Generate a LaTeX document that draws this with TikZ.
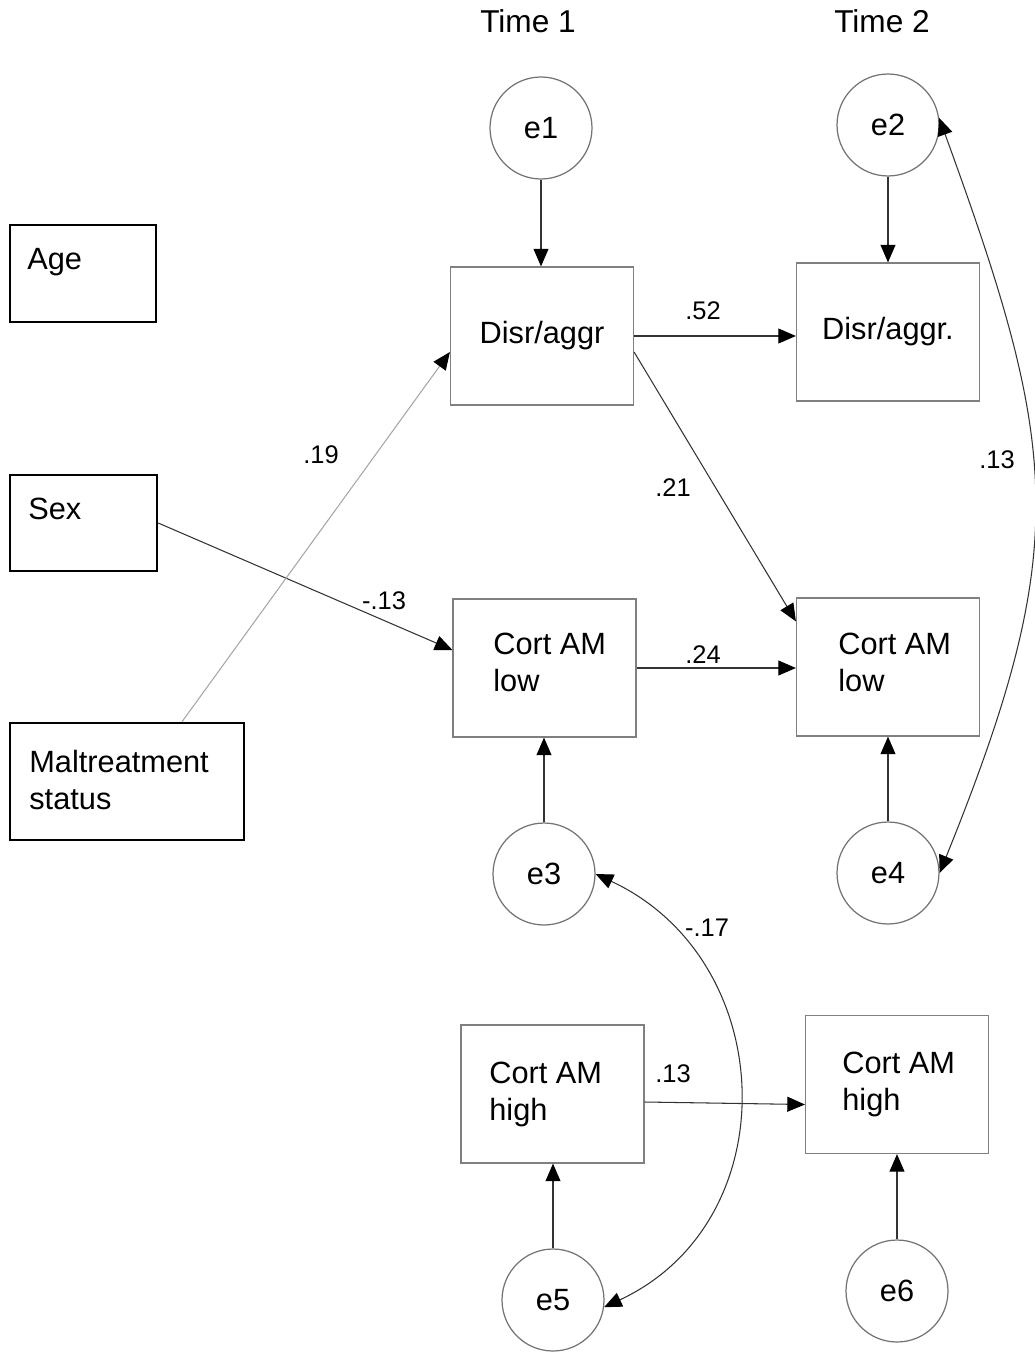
\documentclass[tikz,border=0pt]{standalone}
\usepackage{fontspec}
\setmainfont{Liberation Sans}
\usetikzlibrary{arrows.meta, calc}

\begin{document}
\begin{tikzpicture}[
    x=0.02cm, y=-0.02cm,
    every node/.style={font=\fontsize{17.5}{21}\selectfont},
    exo/.style={draw=black, line width=1.4pt, inner sep=0pt},
    obs/.style={draw=black!50, line width=0.7pt, minimum width=3.66cm, minimum height=2.76cm, inner sep=0pt},
    err/.style={circle, draw=black!55, line width=0.7pt, minimum size=2.04cm, inner sep=0pt},
    txt/.style={anchor=north west, inner sep=0pt, align=left},
    arrow/.style={-{Triangle[length=10pt, width=8.5pt, color=black]}, line width=0.6pt, draw=black!80},
    darrow/.style={{Triangle[length=10pt, width=8.5pt, color=black]}-{Triangle[length=10pt, width=8.5pt, color=black]}, line width=0.6pt, draw=black!80},
    coef/.style={font=\fontsize{14.5}{17}\selectfont, inner sep=0pt},
    head/.style={font=\fontsize{18}{21}\selectfont, anchor=base, inner sep=0pt}
]
    \useasboundingbox (0,0) rectangle (1034,1355);

    \node[head] (time1) at (528,33) {Time 1};
    \node[head] (time2) at (882,33) {Time 2};

    \node[exo, minimum width=2.92cm, minimum height=1.94cm] (age) at (83,273.5) {};
    \node[exo, minimum width=2.94cm, minimum height=1.92cm] (sex) at (83.5,523) {};
    \node[exo, minimum width=4.68cm, minimum height=2.34cm] (mal) at (127,781.5) {};
    \node[txt] (agetxt) at (27,248) {Age};
    \node[txt] (sextxt) at (28,498) {Sex};
    \node[txt] (maltxt) at (29,750) {Maltreatment\\status};

    \node[err] (e1) at (541,128) {e1};
    \node[err] (e2) at (888,125) {e2};
    \node[err] (e3) at (544,874) {e3};
    \node[err] (e4) at (888,873) {e4};
    \node[err] (e5) at (553,1300) {e5};
    \node[err] (e6) at (897,1291) {e6};

    \node[obs] (d1) at (542,336) {Disr/aggr};
    \node[obs] (d2) at (888,332) {Disr/aggr.};
    \node[obs] (l1) at (544.5,668) {};
    \node[obs] (l2) at (888,667) {};
    \node[obs] (h1) at (552.5,1094) {};
    \node[obs] (h2) at (897,1084.5) {};
    \node[txt] (l1txt) at (493,633) {Cort AM\\low};
    \node[txt] (l2txt) at (838,633) {Cort AM\\low};
    \node[txt] (h1txt) at (489,1062) {Cort AM\\high};
    \node[txt] (h2txt) at (842,1052) {Cort AM\\high};

    \draw[arrow] (e1.south) -- (e1.south |- d1.north);
    \draw[arrow] (e2.south) -- (e2.south |- d2.north);
    \draw[arrow] (e3.north) -- (e3.north |- l1.south);
    \draw[arrow] (e4.north) -- (e4.north |- l2.south);
    \draw[arrow] (e5.north) -- (e5.north |- h1.south);
    \draw[arrow] (e6.north) -- (e6.north |- h2.south);

    \draw[arrow] (d1.east) -- (d1.east -| d2.west);
    \draw[arrow] ($(d1.east)+(0,16)$) -- ($(l2.north west)+(0,24)$);
    \draw[arrow] (l1.east) -- (l1.east -| l2.west);
    \draw[arrow] ($(h1.east)+(0,8)$) -- ($(h2.west)+(0,20)$);
    \draw[arrow] (sex.east) -- ($(l1.west)+(0,-18)$);
    \draw[arrow, draw=black!35] ($(mal.north)+(55,0)$) -- ($(d1.west)+(0,16)$);

    \draw[darrow] (e2.8) to[out=-70, in=68, looseness=1.2] (e4.0);
    \draw[darrow] (e3.0) to[out=-25, in=25, looseness=1.2] (e5.-8);

    \node[coef] (c52) at (703,311) {.52};
    \node[coef] (c21) at (673,488) {.21};
    \node[coef] (c24) at (703,655) {.24};
    \node[coef] (c13s) at (384,601) {-.13};
    \node[coef] (c19) at (321,455) {.19};
    \node[coef] (c13e) at (997,460) {.13};
    \node[coef] (c17) at (707,928) {-.17};
    \node[coef] (c13h) at (673,1074) {.13};
\end{tikzpicture}
\end{document}
